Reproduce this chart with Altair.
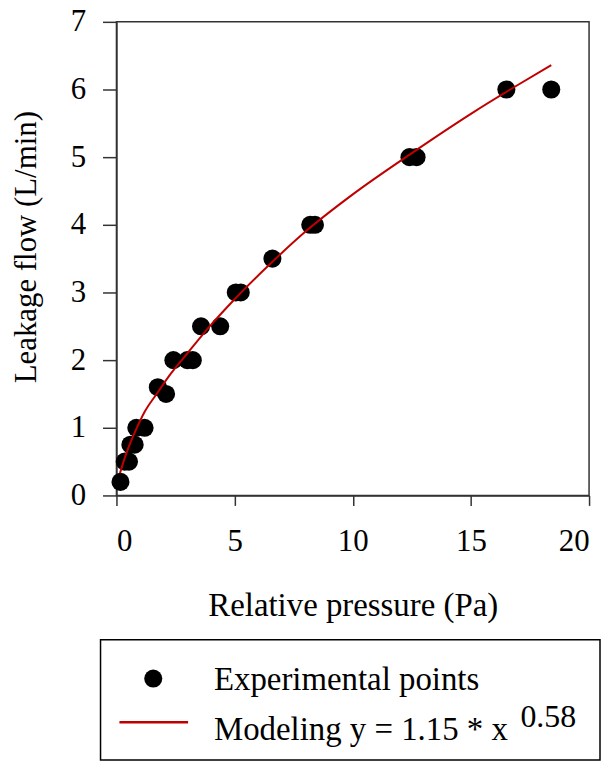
import altair as alt
import pandas as pd

# Experimental points
pressure = [0.17, 0.35, 0.53, 0.59, 0.77, 0.84, 1.19, 1.75, 2.1, 2.41, 3.0, 3.23,
            3.58, 4.39, 5.05, 5.26, 6.6, 8.2, 8.4, 12.4, 12.7, 16.5, 18.4]
flow = [0.2, 0.5, 0.5, 0.75, 0.75, 1.0, 1.0, 1.6, 1.5, 2.0, 2.0, 2.0,
        2.5, 2.5, 3.0, 3.0, 3.5, 4.0, 4.0, 5.0, 5.0, 6.0, 6.0]

# Modeled curve
model_x = [0.15, 0.3, 0.5, 0.8, 1.2, 1.7, 2.3, 3.0, 4.0, 5.0, 6.5, 8.0, 10.0,
           12.5, 15.0, 17.0, 18.4]
model_y = [0.33, 0.5, 0.7, 0.95, 1.24, 1.5, 1.8, 2.1, 2.52, 2.9, 3.42, 3.9,
           4.45, 5.06, 5.64, 6.07, 6.36]

x_ticks = [0, 5, 10, 15, 20]
y_ticks = [0, 1, 2, 3, 4, 5, 6, 7]

legend_labels = ["Experimental points", "Modeling y = 1.15 * x", "0.58"]

FONT = "Liberation Serif"
RED = "#c00000"

pts = pd.DataFrame({"p": pressure, "f": flow})
mod = pd.DataFrame({"p": model_x, "f": model_y})
one = pd.DataFrame({"k": [0]})

xs = alt.Scale(domain=[0, 20], nice=False, zero=False)
ys = alt.Scale(domain=[0, 7], nice=False, zero=False)

x_axis = alt.Axis(values=x_ticks, format="d", title="Relative pressure (Pa)", grid=False,
                  tickSize=10, labelPadding=21, titleBaseline="alphabetic",
                  titleY=121, titleFontSize=33)
y_axis = alt.Axis(values=y_ticks, format="d", title="Leakage flow (L/min)", grid=False,
                  tickSize=14, labelPadding=17, titleBaseline="alphabetic",
                  titleX=-81, titleY=226, titleAngle=270, titleFontSize=31)

points = alt.Chart(pts).mark_circle(size=330, color="black", opacity=1).encode(
    x=alt.X("p:Q", scale=xs, axis=x_axis),
    y=alt.Y("f:Q", scale=ys, axis=y_axis),
)

curve = alt.Chart(mod).mark_line(color=RED, strokeWidth=2, interpolate="monotone").encode(
    x=alt.X("p:Q", scale=xs),
    y=alt.Y("f:Q", scale=ys),
)

# Legend (drawn below the plot)
box = alt.Chart(one).mark_rect(fill="white", stroke="black", strokeWidth=1.5).encode(
    x=alt.value(-16), x2=alt.value(486), y=alt.value(621), y2=alt.value(742)
)
leg_dot = alt.Chart(one).mark_circle(size=330, color="black", opacity=1).encode(
    x=alt.value(37), y=alt.value(660)
)
leg_line = alt.Chart(one).mark_rule(color=RED, strokeWidth=2.5).encode(
    x=alt.value(3), x2=alt.value(72), y=alt.value(704)
)
leg_t1 = alt.Chart(one).mark_text(font=FONT, fontSize=33, align="left",
                                  baseline="alphabetic", color="black",
                                  text=legend_labels[0]).encode(
    x=alt.value(98), y=alt.value(672)
)
leg_t2 = alt.Chart(one).mark_text(font=FONT, fontSize=33, align="left",
                                  baseline="alphabetic", color="black",
                                  text=legend_labels[1]).encode(
    x=alt.value(98), y=alt.value(722)
)
leg_t3 = alt.Chart(one).mark_text(font=FONT, fontSize=32, align="left",
                                  baseline="alphabetic", color="black",
                                  text=legend_labels[2]).encode(
    x=alt.value(406), y=alt.value(709)
)

chart = alt.layer(points, curve, box, leg_dot, leg_line, leg_t1, leg_t2, leg_t3).properties(
    width=475, height=476,
    autosize=alt.AutoSizeParams(type="none"),
    padding={"left": 109, "top": 12, "right": 12, "bottom": 267},
    background="white",
).configure_view(
    stroke="#333", strokeWidth=1.5
).configure_axis(
    labelFont=FONT, titleFont=FONT, labelFontSize=31,
    labelColor="black", titleColor="black", titleFontWeight="normal",
    domainColor="#333", tickColor="#333", domainWidth=1.5, tickWidth=1.5,
)

chart.save("out.html", embed_options={"renderer": "svg", "actions": False})
